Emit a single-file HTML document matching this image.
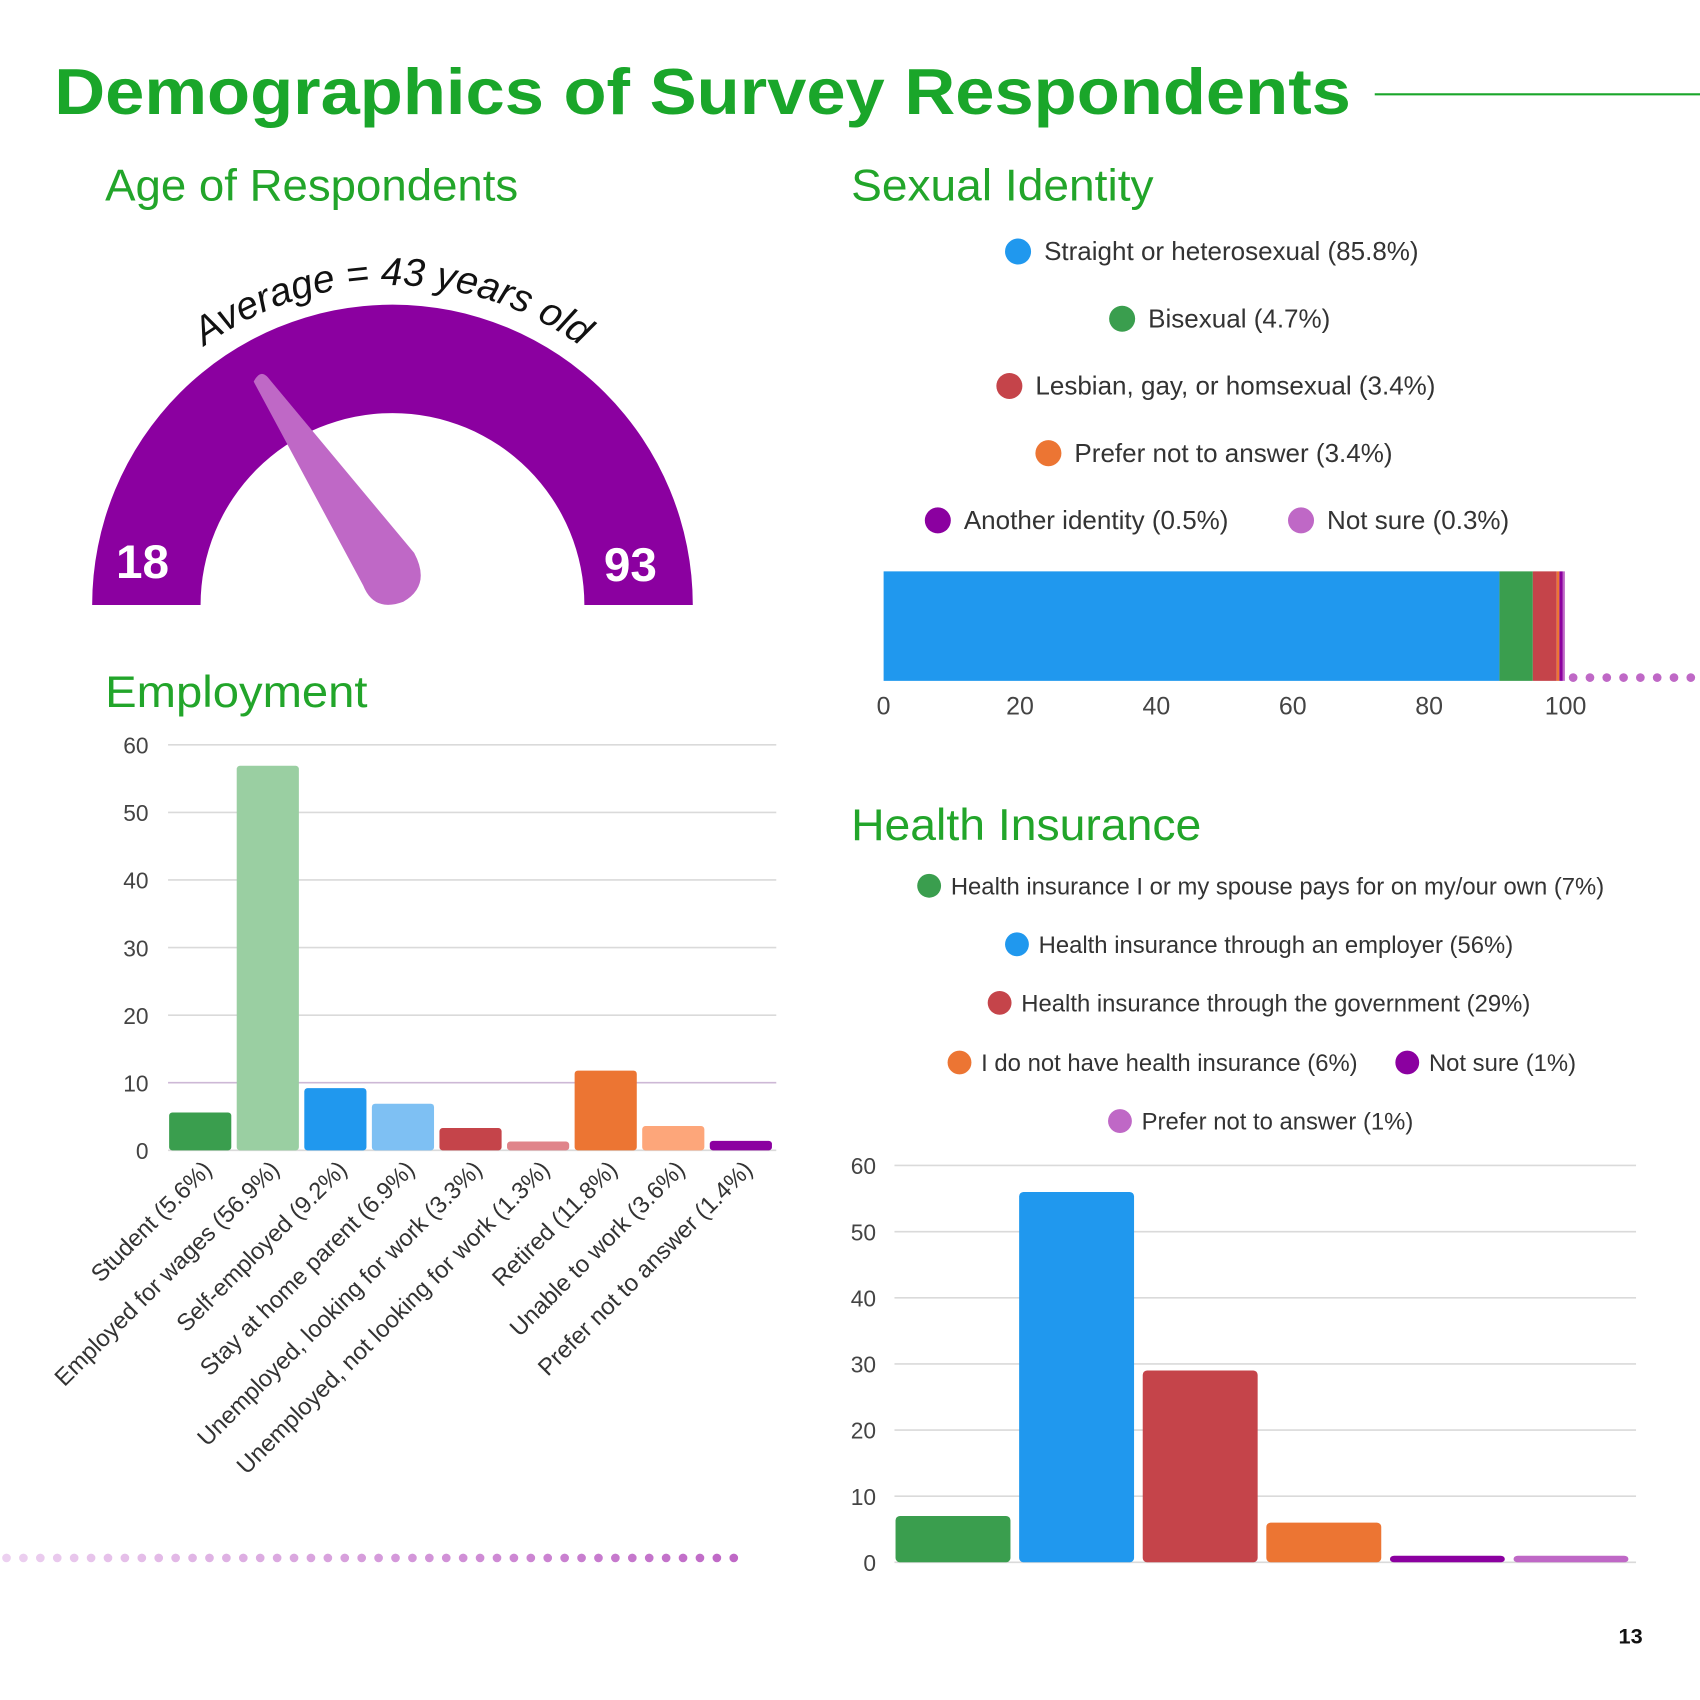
<!DOCTYPE html>
<html><head><meta charset="utf-8">
<style>
html,body{margin:0;padding:0;background:#fff;}
svg{display:block;}
text{font-family:"Liberation Sans",sans-serif;}
</style></head>
<body>
<svg id="root" width="1700" height="1700" viewBox="0 0 1568 1568" xmlns="http://www.w3.org/2000/svg">
<rect x="0" y="0" width="1568" height="1568" fill="#fff"/>
<text x="50" y="105" font-size="60" font-weight="bold" fill="#1aa62a" textLength="1196" lengthAdjust="spacingAndGlyphs">Demographics of Survey Respondents</text>
<line x1="1268" y1="87" x2="1568" y2="87" stroke="#1aa62a" stroke-width="2"/>

<text x="97" y="185" font-size="41" fill="#22a52a" textLength="381" lengthAdjust="spacingAndGlyphs">Age of Respondents</text>
<text x="785" y="185" font-size="41" fill="#22a52a" textLength="279" lengthAdjust="spacingAndGlyphs">Sexual Identity</text>
<text x="97" y="652" font-size="41" fill="#22a52a" textLength="242" lengthAdjust="spacingAndGlyphs">Employment</text>
<text x="785" y="775" font-size="41" fill="#22a52a" textLength="323" lengthAdjust="spacingAndGlyphs">Health Insurance</text>

<g>
<path d="M85 558 A277 277 0 0 1 639 558 L539 558 A177 177 0 0 0 185 558 Z" fill="#8b00a0"/>
<path d="M234 352 Q240 340 247 348 L382 510 Q398 540 372 555 Q345 565 335 540 Z" fill="#bf68c6"/>
<text x="107" y="533" font-size="44" font-weight="bold" fill="#fff">18</text>
<text x="557" y="536" font-size="44" font-weight="bold" fill="#fff">93</text>
<path id="arcpath" d="M67 558 A295 295 0 0 1 657 558" fill="none"/>
<text font-size="36" font-style="italic" fill="#111"><textPath href="#arcpath" startOffset="50%" text-anchor="middle">Average = 43 years old</textPath></text>
</g>

<g id="sexlegend"></g>
<g id="sexbar"></g>
<g id="emp"></g>
<g id="hilegend"></g>
<g id="hi"></g>
<g id="dots"></g>

<text x="1504" y="1516" font-size="20" font-weight="bold" fill="#111" text-anchor="middle">13</text>
</svg>
<script>
// ---- data ----
const sexLabels = ["Straight or heterosexual (85.8%)","Bisexual (4.7%)","Lesbian, gay, or homsexual (3.4%)","Prefer not to answer (3.4%)","Another identity (0.5%)","Not sure (0.3%)"];
const sexValues = [90.3, 4.9, 3.5, 0.4, 0.5, 0.3];
const sexTicks = [0, 20, 40, 60, 80, 100];
const empCategories = ["Student (5.6%)","Employed for wages (56.9%)","Self-employed (9.2%)","Stay at home parent (6.9%)","Unemployed, looking for work (3.3%)","Unemployed, not looking for work (1.3%)","Retired (11.8%)","Unable to work (3.6%)","Prefer not to answer (1.4%)"];
const empValues = [5.6, 56.9, 9.2, 6.9, 3.3, 1.3, 11.8, 3.6, 1.4];
const empTicks = [0, 10, 20, 30, 40, 50, 60];
const hiLabels = ["Health insurance I or my spouse pays for on my/our own (7%)","Health insurance through an employer (56%)","Health insurance through the government (29%)","I do not have health insurance (6%)","Not sure (1%)","Prefer not to answer (1%)"];
const hiValues = [7, 56, 29, 6, 1, 1];
const hiTicks = [0, 10, 20, 30, 40, 50, 60];

const NS = "http://www.w3.org/2000/svg";
function mk(parent, tag, attrs, txt){
  const e = document.createElementNS(NS, tag);
  for (const k in attrs) e.setAttribute(k, attrs[k]);
  if (txt !== undefined) e.textContent = txt;
  parent.appendChild(e); return e;
}
const sexColors = ["#2098ee","#3a9e4e","#c5444a","#ec7533","#8b00a0","#bf68c6"];
const sexDotPos = [[939,232],[1035,294],[931,356],[967,418],[865,480],[1200,480]];
const sl = document.getElementById('sexlegend');
sexLabels.forEach((l,i)=>{
  const g = mk(sl,'g',{});
  
  
  mk(g,'circle',{cx:sexDotPos[i][0],cy:sexDotPos[i][1],r:12,fill:sexColors[i]});
  mk(g,'text',{x:sexDotPos[i][0]+24,y:sexDotPos[i][1]+8,'font-size':24,fill:'#333'},l);
});
const sb = document.getElementById('sexbar');
const sx0=815, sx1=1444;
const sxScale = v => sx0 + v/100*(sx1-sx0);
let acc=0;
sexValues.forEach((v,i)=>{
  const r = mk(sb,'rect',{x:sxScale(acc),y:527,width:Math.max(0,sxScale(acc+v)-sxScale(acc)),height:101,fill:sexColors[i]});
  
  
  acc+=v;
});
sexTicks.forEach(t=>{
  const tx = mk(sb,'text',{x:sxScale(t),y:659,'font-size':23,fill:'#444','text-anchor':'middle'},String(t));
  
  
});

const emp = document.getElementById('emp');
const ex0=155, ex1=716, ey0=1061, ey60=687;
const eY = v => ey0 - v/60*(ey0-ey60);
const empColors = ["#3a9e4e","#9acfa2","#2098ee","#7ec0f3","#c5444a","#e0848a","#ec7533","#fda67a","#8b00a0"];
empTicks.forEach(t=>{
  mk(emp,'line',{x1:ex0,x2:ex1,y1:eY(t),y2:eY(t),stroke:t===10?'#cdb8d6':'#dadada','stroke-width':1.5});
  const tx = mk(emp,'text',{x:137,y:eY(t)+8,'font-size':21,fill:'#444','text-anchor':'end'},String(t));
  
  
});
const eSlot=(ex1-ex0)/empValues.length;
empValues.forEach((v,i)=>{
  const x = ex0+i*eSlot+1;
  const r = mk(emp,'rect',{x:x,y:eY(v),width:eSlot-5,height:ey0-eY(v),rx:3,fill:empColors[i]});
  
  
  const cx = x+(eSlot-5)/2;
  const tx = mk(emp,'text',{x:cx+12,y:1080,'font-size':22,fill:'#333','text-anchor':'end',transform:`rotate(-45 ${cx+12} 1080)`},empCategories[i]);
  
  
});

const hiColors = ["#3a9e4e","#2098ee","#c5444a","#ec7533","#8b00a0","#bf68c6"];
const hiDotPos = [[857,817],[938,871],[922,925],[885,980],[1298,980],[1033,1034]];
const hl = document.getElementById('hilegend');
hiLabels.forEach((l,i)=>{
  const g = mk(hl,'g',{});
  
  
  mk(g,'circle',{cx:hiDotPos[i][0],cy:hiDotPos[i][1],r:11,fill:hiColors[i]});
  mk(g,'text',{x:hiDotPos[i][0]+20,y:hiDotPos[i][1]+8,'font-size':22,fill:'#333'},l);
});
const hi = document.getElementById('hi');
const hx0=825, hx1=1509, hy0=1441, hy60=1075;
const hY = v => hy0 - v/60*(hy0-hy60);
hiTicks.forEach(t=>{
  mk(hi,'line',{x1:hx0,x2:hx1,y1:hY(t),y2:hY(t),stroke:'#dadada','stroke-width':1.5});
  const tx = mk(hi,'text',{x:808,y:hY(t)+8,'font-size':21,fill:'#444','text-anchor':'end'},String(t));
  
  
});
const hSlot=(hx1-hx0)/hiValues.length;
hiValues.forEach((v,i)=>{
  const r = mk(hi,'rect',{x:hx0+i*hSlot+1,y:hY(v),width:hSlot-8,height:hy0-hY(v),rx:4,fill:hiColors[i]});
  
  
});

const dg = document.getElementById('dots');
for(let x=1451;x<1568;x+=15.5) mk(dg,'circle',{cx:x,cy:625,r:4,fill:'#bf68c6'});
for(let i=0;i<44;i++){
  const x=6+i*15.6, f=i/43;
  const c=`rgb(${Math.round(236-(236-191)*f)},${Math.round(208-(208-104)*f)},${Math.round(240-(240-198)*f)})`;
  mk(dg,'circle',{cx:x,cy:1437,r:4,fill:c});
}
</script>
</body></html>
